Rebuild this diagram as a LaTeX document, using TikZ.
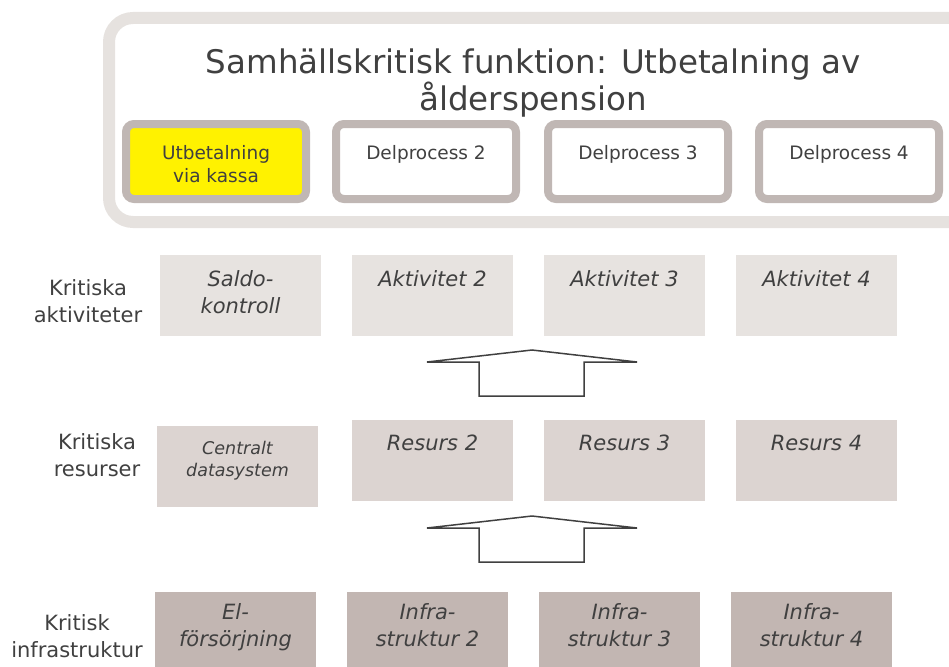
\documentclass[tikz,border=0pt]{standalone}
\usepackage{fontspec}
\setmainfont{DejaVu Sans}
\usetikzlibrary{positioning}
\definecolor{ramfarg}{HTML}{E6E2DF}
\definecolor{kantfarg}{HTML}{C0B7B4}
\definecolor{gul}{HTML}{FFF200}
\definecolor{aktfarg}{HTML}{E7E3E0}
\definecolor{resfarg}{HTML}{DCD4D1}
\definecolor{infrafarg}{HTML}{C2B6B2}
\definecolor{textfarg}{HTML}{404040}

\begin{document}
\begin{tikzpicture}[x=1pt,y=-1pt,
  every node/.style={text=textfarg},
  delbox/.style={draw=kantfarg,line width=8pt,rounded corners=8pt,fill=white,
    minimum width=180pt,minimum height=75pt,inner sep=0pt,outer sep=0pt,anchor=north west},
  deltext/.style={inner sep=0pt,align=center,font=\fontsize{18.5}{23}\selectfont},
  akt/.style={fill=aktfarg,minimum width=161pt,minimum height=81pt,inner sep=0pt,outer sep=0pt,anchor=north west},
  res/.style={fill=resfarg,minimum width=161pt,minimum height=81pt,inner sep=0pt,outer sep=0pt,anchor=north west},
  infra/.style={fill=infrafarg,minimum width=161pt,minimum height=90pt,inner sep=0pt,outer sep=0pt,anchor=north west},
  boxtext/.style={inner sep=0pt,align=center,font=\fontsize{21}{27}\selectfont\itshape},
  radtext/.style={inner sep=0pt,align=center,font=\fontsize{21}{27}\selectfont},
  pil/.style={draw=textfarg,fill=white,line width=1.5pt,line join=miter}]
\clip (0,0) rectangle (949,666);

% ram runt funktionen
\draw [ramfarg,line width=12pt,rounded corners=24pt] (109,18) rectangle (990,222);
\node [align=center,inner sep=0pt,font=\fontsize{32.5}{37}\selectfont] (titel) at (533,83)
  {Samhällskritisk funktion: Utbetalning av\\ålderspension};

% delprocesser
\node [delbox,fill=gul] (del1) at (126,124) {};
\node [delbox] (del2) at (336,124) {};
\node [delbox] (del3) at (548,124) {};
\node [delbox] (del4) at (759,124) {};
\node [deltext,below=21pt of del1.north] (del1txt) {Utbetalning\\via kassa};
\node [deltext,below=21pt of del2.north] (del2txt) {Delprocess 2};
\node [deltext,below=21pt of del3.north] (del3txt) {Delprocess 3};
\node [deltext,below=21pt of del4.north] (del4txt) {Delprocess 4};

% aktiviteter
\node [radtext] (aktrad) at (88,301) {Kritiska\\aktiviteter};
\node [akt] (akt1) at (160,255) {};
\node [akt] (akt2) at (352,255) {};
\node [akt] (akt3) at (544,255) {};
\node [akt] (akt4) at (736,255) {};
\node [boxtext,below=15pt of akt1.north] (akt1txt) {Saldo-\\kontroll};
\node [boxtext,below=15pt of akt2.north] (akt2txt) {Aktivitet 2};
\node [boxtext,below=15pt of akt3.north] (akt3txt) {Aktivitet 3};
\node [boxtext,below=15pt of akt4.north] (akt4txt) {Aktivitet 4};

% resurser
\node [radtext] (resrad) at (97,455) {Kritiska\\resurser};
\node [res] (res1) at (157,426) {};
\node [res] (res2) at (352,420) {};
\node [res] (res3) at (544,420) {};
\node [res] (res4) at (736,420) {};
\node [boxtext,below=15pt of res1.north,font=\fontsize{17.5}{22}\selectfont\itshape] (res1txt) {Centralt\\datasystem};
\node [boxtext,below=15pt of res2.north] (res2txt) {Resurs 2};
\node [boxtext,below=15pt of res3.north] (res3txt) {Resurs 3};
\node [boxtext,below=15pt of res4.north] (res4txt) {Resurs 4};

% infrastruktur
\node [radtext] (infrarad) at (77,636) {Kritisk\\infrastruktur};
\node [infra] (infra1) at (155,592) {};
\node [infra] (infra2) at (347,592) {};
\node [infra] (infra3) at (539,592) {};
\node [infra] (infra4) at (731,592) {};
\node [boxtext,below=11pt of infra1.north] (infra1txt) {El-\\försörjning};
\node [boxtext,below=11pt of infra2.north] (infra2txt) {Infra-\\struktur 2};
\node [boxtext,below=11pt of infra3.north] (infra3txt) {Infra-\\struktur 3};
\node [boxtext,below=11pt of infra4.north] (infra4txt) {Infra-\\struktur 4};

% pilar uppåt
\foreach \dy in {0,166}
  \draw [pil] (427,362+\dy) -- (532,350+\dy) -- (637,362+\dy) -- (584,362+\dy)
    -- (584,396+\dy) -- (479,396+\dy) -- (479,362+\dy) -- cycle;
\end{tikzpicture}
\end{document}
